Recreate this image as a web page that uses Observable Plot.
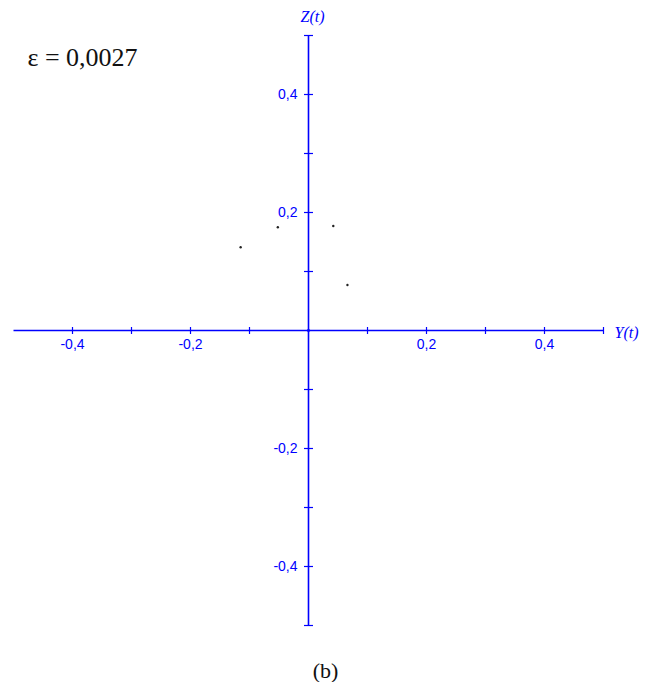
<!DOCTYPE html>
<html>
<head>
<meta charset="utf-8">
<script src="https://cdn.jsdelivr.net/npm/d3@7"></script>
<script src="https://cdn.jsdelivr.net/npm/@observablehq/plot@0.6"></script>
<style>
  html, body { margin: 0; padding: 0; background: #fff; }
  #chart svg { display: block; }
  #caption { width: 651px; text-align: center; font-family: "Liberation Serif", "DejaVu Serif", serif;
             font-size: 22px; line-height: 22px; padding-top: 10px; color: #111; }
</style>
</head>
<body>
<div id="chart"></div>
<div id="caption">(b)</div>
<script>
// Poincaré-section points (Y(t), Z(t)) for ε = 0,0027
const pointY = [-0.115, -0.052, 0.042, 0.066];
const pointZ = [0.141, 0.175, 0.177, 0.077];

// Axis ticks every 0.1, labels only at ±0.2 and ±0.4
const xTicks = [-0.4, -0.3, -0.2, -0.1, 0.1, 0.2, 0.3, 0.4, 0.5];
const yTicks = [-0.5, -0.4, -0.3, -0.2, -0.1, 0.1, 0.2, 0.3, 0.4, 0.5];
const xTickLabels = [-0.4, -0.2, 0.2, 0.4];
const yTickLabels = [-0.4, -0.2, 0.2, 0.4];
const axisRange = [-0.5, 0.5];
const epsilonLabel = "ε = 0,0027";

const points = pointY.map((y, i) => ({y, z: pointZ[i]}));
const blue = "#0000ff";
const fmt = v => d3.format(".1f")(v).replace(".", ",").replace("−", "-");

// short tick glyphs drawn through dot marks
const vTick = {draw(ctx) { ctx.moveTo(0, -3.5); ctx.lineTo(0, 3.5); }};
const hTick = {draw(ctx) { ctx.moveTo(-4.5, 0); ctx.lineTo(4.5, 0); }};

const chart = Plot.plot({
  width: 651,
  height: 650,
  marginLeft: 13,
  marginRight: 48,
  marginTop: 35,
  marginBottom: 25,
  x: {domain: axisRange, axis: null},
  y: {domain: axisRange, axis: null},
  style: {background: "#fff"},
  marks: [
    // horizontal axis Y(t)
    Plot.link([0], {x1: axisRange[0], x2: axisRange[1], y1: 0, y2: 0, stroke: blue, strokeWidth: 1.6}),
    // vertical axis Z(t)
    Plot.link([0], {x1: 0, x2: 0, y1: axisRange[0], y2: axisRange[1], stroke: blue, strokeWidth: 1.6}),
    Plot.dot(xTicks, {x: d => d, y: 0, symbol: vTick, stroke: blue, strokeWidth: 1.2, fill: "none"}),
    Plot.dot(yTicks, {x: 0, y: d => d, symbol: hTick, stroke: blue, strokeWidth: 1.2, fill: "none"}),
    Plot.dot([0], {x: 0, y: 0, r: 1.8, fill: blue, fillOpacity: 0.6}),
    Plot.text(xTickLabels, {x: d => d, y: 0, dy: 14, text: fmt, fill: blue,
      fontFamily: "Liberation Sans, Arial, sans-serif", fontSize: 14}),
    Plot.text(yTickLabels, {x: 0, y: d => d, dx: -11, textAnchor: "end", text: fmt, fill: blue,
      fontFamily: "Liberation Sans, Arial, sans-serif", fontSize: 14}),
    Plot.text(["Y(t)"], {x: axisRange[1], y: 0, dx: 11, dy: 2, textAnchor: "start", text: d => d,
      fill: blue, fontFamily: "Liberation Serif, serif", fontStyle: "italic", fontSize: 16}),
    Plot.text(["Z(t)"], {x: 0, y: axisRange[1], dx: 4, dy: -19, text: d => d,
      fill: blue, fontFamily: "Liberation Serif, serif", fontStyle: "italic", fontSize: 16}),
    // trajectory intersection points
    Plot.dot(points, {x: "y", y: "z", r: 1.2, fill: "#222"}),
    Plot.text([epsilonLabel], {frameAnchor: "top-left", dx: 14, dy: 12, textAnchor: "start", text: d => d,
      fill: "#111", fontFamily: "Liberation Serif, serif", fontSize: 26})
  ]
});
document.getElementById("chart").append(chart);
</script>
</body>
</html>
